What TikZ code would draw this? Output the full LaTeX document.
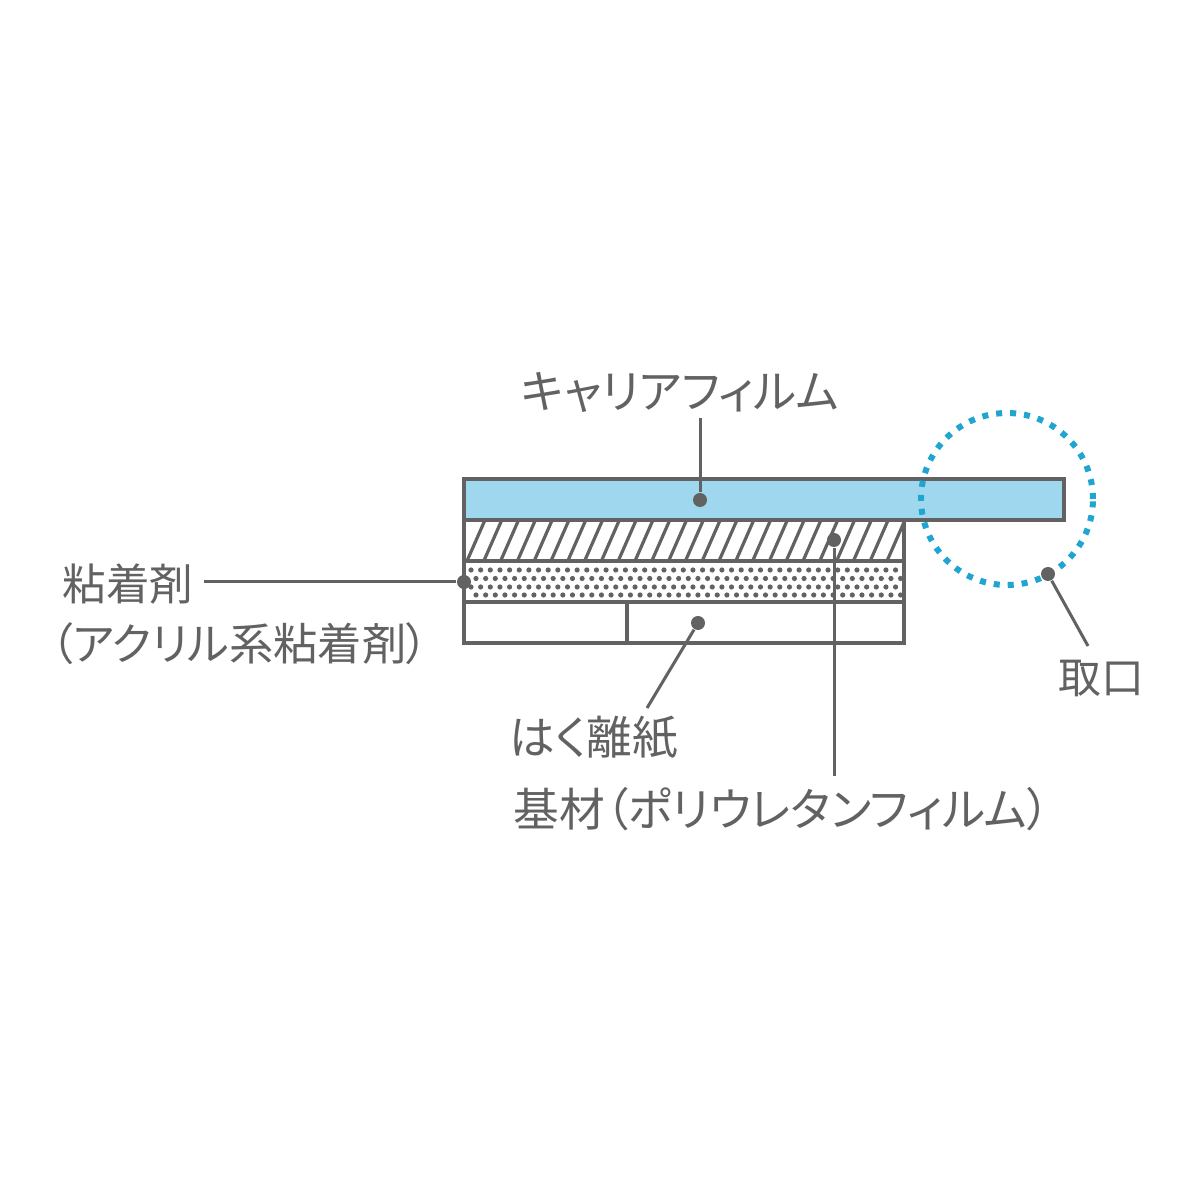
\documentclass[tikz,border=0pt]{standalone}
\usepackage{fontspec}
\setmainfont[RawFeature={+palt}]{Noto Sans CJK JP}
\usepackage{xcolor}
\definecolor{linegray}{HTML}{626262}
\definecolor{filmblue}{HTML}{9FD8EE}
\definecolor{ringblue}{HTML}{1FA5CF}
\tikzset{
	layer/.style={draw=linegray, line width=0.033cm},
	leader/.style={draw=linegray, line width=0.03cm},
	pin/.style={fill=linegray, circle, inner sep=0pt, minimum size=0.14cm},
	tag/.style={text=linegray, font=\fontsize{13pt}{15pt}\selectfont, inner sep=0pt}
}
\begin{document}
\begin{tikzpicture}
	\useasboundingbox (0,0) rectangle (12,12);
	\fill[white] (0,0) rectangle (12,12);
	% hatched layer
	\begin{scope}
		\clip (4.64,6.39) rectangle (9.04,6.80);
		\foreach \i in {0,...,27}
			\draw[linegray, line width=0.032cm] ({4.67+0.168*\i},6.39) -- ({4.85+0.168*\i},6.80);
	\end{scope}
	% dotted layer
	\foreach \i in {0,...,44} {
		\fill[linegray] ({4.71+0.0965*\i},6.30) circle (0.026);
		\fill[linegray] ({4.76+0.0965*\i},6.215) circle (0.026);
		\fill[linegray] ({4.71+0.0965*\i},6.13) circle (0.026);
		\fill[linegray] ({4.76+0.0965*\i},6.05) circle (0.026);
	}
	% layers
	\draw[layer] (4.64,6.39) rectangle (9.04,5.98);
	\draw[layer] (4.64,6.80) rectangle (9.04,6.39);
	\draw[layer] (4.64,5.98) rectangle (9.04,5.57);
	\draw[layer] (6.27,5.98) -- (6.27,5.57);
	\draw[layer, fill=filmblue] (4.64,7.21) rectangle (10.64,6.80);
	% ring
	\draw[ringblue, line width=0.06cm, dash pattern=on 0.06cm off 0.08cm] (10.07,7.01) circle (0.86);
	% labels
	\node[tag] (carrier) at (6.80,8.08) {キャリアフィルム};
	\node[tag, anchor=west, font=\fontsize{12.4pt}{15pt}\selectfont] (glue) at (0.62,6.16) {粘着剤};
	\node[tag, anchor=west, font=\fontsize{12.6pt}{15pt}\selectfont] (glueb) at (0.50,5.56) {（アクリル系粘着剤）};
	\node[tag] (liner) at (5.94,4.62) {はく離紙};
	\node[tag] (base) at (7.82,3.91) {基材（ポリウレタンフィルム）};
	\node[tag, font=\fontsize{12.2pt}{15pt}\selectfont] (mouth) at (11.01,5.22) {取口};
	% pins
	\node[pin] (pa) at (7.00,7.00) {};
	\node[pin] (pb) at (8.34,6.60) {};
	\node[pin] (pc) at (4.64,6.18) {};
	\node[pin] (pd) at (6.98,5.77) {};
	\node[pin] (pe) at (10.48,6.26) {};
	\coordinate (ea) at (7.00,7.82);
	\coordinate (eb) at (8.34,4.24);
	\coordinate (ec) at (2.04,6.18);
	\coordinate (ed) at (6.47,4.92);
	\coordinate (ee) at (10.88,5.54);
	% leaders
	\draw[leader] (pa) -- (ea);
	\draw[leader] (pb) -- (eb);
	\draw[leader] (pc) -- (ec);
	\draw[leader] (pd) -- (ed);
	\draw[leader] (pe) -- (ee);
\end{tikzpicture}
\end{document}
